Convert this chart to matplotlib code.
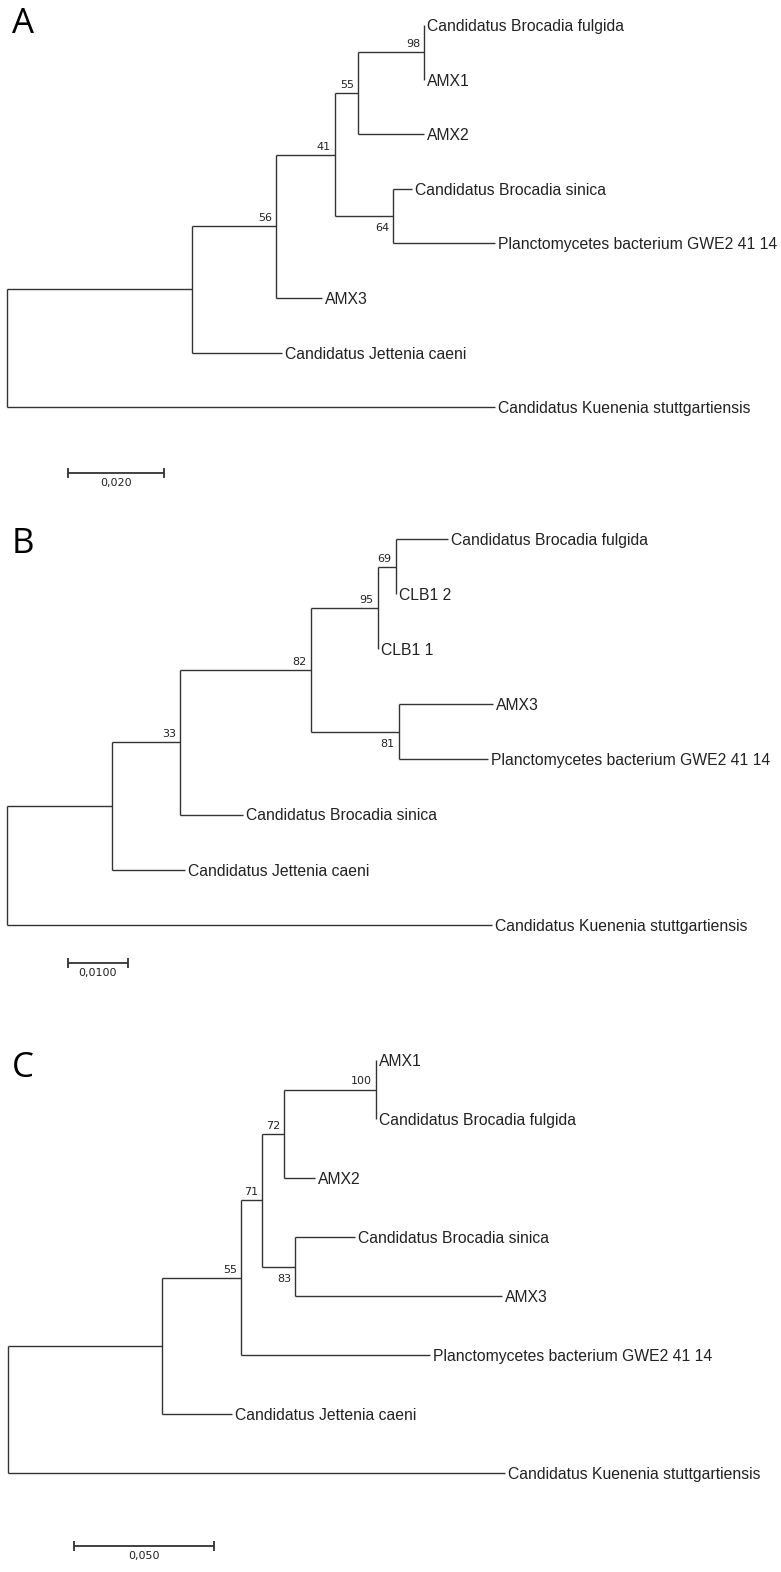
import re

import matplotlib
matplotlib.use("Agg")
import matplotlib.pyplot as plt

W, H, DPI = 781, 1572, 100

# Neighbour-joining trees, branch lengths in substitutions/site, node labels = bootstrap (%)
TREE_A = ("((((((Candidatus Brocadia fulgida:0,AMX1:0)98:0.0138,AMX2:0.0138)55:0.0048,"
          "(Candidatus Brocadia sinica:0.0040,Planctomycetes bacterium GWE2 41 14:0.0213)64:0.0121)41:0.0123,"
          "AMX3:0.0096)56:0.0175,Candidatus Jettenia caeni:0.0188):0.0385,"
          "Candidatus Kuenenia stuttgartiensis:0.1017);")
TREE_B = ("((((((Candidatus Brocadia fulgida:0.0087,CLB1 2:0)69:0.0030,CLB1 1:0)95:0.0112,"
          "(AMX3:0.0157,Planctomycetes bacterium GWE2 41 14:0.0148)81:0.0147)82:0.0218,"
          "Candidatus Brocadia sinica:0.0105)33:0.0113,Candidatus Jettenia caeni:0.0122):0.0175,"
          "Candidatus Kuenenia stuttgartiensis:0.0808);")
TREE_C = ("((((((AMX1:0,Candidatus Brocadia fulgida:0)100:0.0329,AMX2:0.0111)72:0.0079,"
          "(Candidatus Brocadia sinica:0.0214,AMX3:0.0739)83:0.0118)71:0.0075,"
          "Planctomycetes bacterium GWE2 41 14:0.0675)55:0.0282,Candidatus Jettenia caeni:0.0250):0.0550,"
          "Candidatus Kuenenia stuttgartiensis:0.1775);")

PANEL_LETTERS = ["A", "B", "C"]
SCALE_LENGTHS = [0.020, 0.0100, 0.050]
SCALE_LABELS = ["0,020", "0,0100", "0,050"]

LINE = "#333333"
LEAF_FONT = dict(family="Liberation Sans", size=11.3, color="#222222")
SMALL_FONT = dict(family="DejaVu Sans", size=8, color="#222222")


def parse_newick(text):
    tokens = re.findall(r"[(),;]|[^(),;]+", text)
    pos = 0

    def node():
        nonlocal pos
        children = []
        if tokens[pos] == "(":
            pos += 1
            children.append(node())
            while tokens[pos] == ",":
                pos += 1
                children.append(node())
            pos += 1  # closing bracket
        label, length = "", 0.0
        if tokens[pos] not in "(),;":
            label, _, bl = tokens[pos].partition(":")
            length = float(bl) if bl else 0.0
            pos += 1
        return {"label": label.strip(), "length": length, "children": children}

    return node()


def layout(tree):
    """Cumulative depth on x, leaf order on y (internal nodes centred on children)."""
    counter = [0]

    def walk(n, depth):
        n["x"] = depth + n["length"]
        if n["children"]:
            for c in n["children"]:
                walk(c, n["x"])
            n["y"] = (n["children"][0]["y"] + n["children"][-1]["y"]) / 2
        else:
            n["y"] = counter[0]
            counter[0] += 1

    tree["length"] = 0.0
    walk(tree, 0.0)
    return tree


def draw_tree(ax, tree, lower=False):
    kids = tree["children"]
    if not kids:
        ax.annotate(tree["label"], (tree["x"], tree["y"]), xytext=(3, 0),
                    textcoords="offset pixels", ha="left", va="center_baseline", **LEAF_FONT)
        return
    ax.plot([tree["x"], tree["x"]], [kids[0]["y"], kids[-1]["y"]], color=LINE, lw=1.0,
            solid_capstyle="butt")
    for i, c in enumerate(kids):
        ax.plot([tree["x"], c["x"]], [c["y"], c["y"]], color=LINE, lw=1.0, solid_capstyle="butt")
        draw_tree(ax, c, lower=(i == len(kids) - 1 and i > 0))
    if tree["label"]:
        if lower:
            ax.annotate(tree["label"], (tree["x"], tree["y"]), xytext=(-4, -7),
                        textcoords="offset pixels", ha="right", va="top", **SMALL_FONT)
        else:
            ax.annotate(tree["label"], (tree["x"], tree["y"]), xytext=(-4, 3),
                        textcoords="offset pixels", ha="right", va="bottom", **SMALL_FONT)


fig = plt.figure(figsize=(W / DPI, H / DPI), dpi=DPI)

# panel band (px), root x (px), px per unit, first leaf y (px), leaf spacing (px), scale bar (x px, y px)
panels = [
    (TREE_A, (0, 510), 7, 4800, 25, 54.6, (68, 473), 33),
    (TREE_B, (510, 1030), 7, 6000, 539, 55.1, (68, 963), 553),
    (TREE_C, (1030, 1572), 8, 2800, 1060, 59.0, (74, 1546), 1077),
]

for k, (newick, (top, bot), root_px, ppu, leaf0, step, (bx, by), letter_y) in enumerate(panels):
    ax = fig.add_axes([0, 1 - bot / H, 1, (bot - top) / H])
    ax.set_xlim(-root_px / ppu, (W - root_px) / ppu)
    ax.set_ylim((bot - leaf0) / step, (top - leaf0) / step)
    ax.axis("off")

    tree = layout(parse_newick(newick))
    draw_tree(ax, tree)

    # scale bar
    x0 = (bx - root_px) / ppu
    y0 = (by - leaf0) / step
    x1 = x0 + SCALE_LENGTHS[k]
    ax.plot([x0, x1], [y0, y0], color=LINE, lw=1.3, marker="|", markersize=7,
            markeredgewidth=1.3, solid_capstyle="butt")
    ax.annotate(SCALE_LABELS[k], ((x0 + x1) / 2, y0), xytext=(0, -5),
                textcoords="offset pixels", ha="center", va="top", **SMALL_FONT)

    fig.text(12 / W, 1 - letter_y / H, PANEL_LETTERS[k], family="Open Sans", fontsize=25,
             ha="left", va="baseline", color="black")

fig.savefig("out.png", dpi=DPI)
